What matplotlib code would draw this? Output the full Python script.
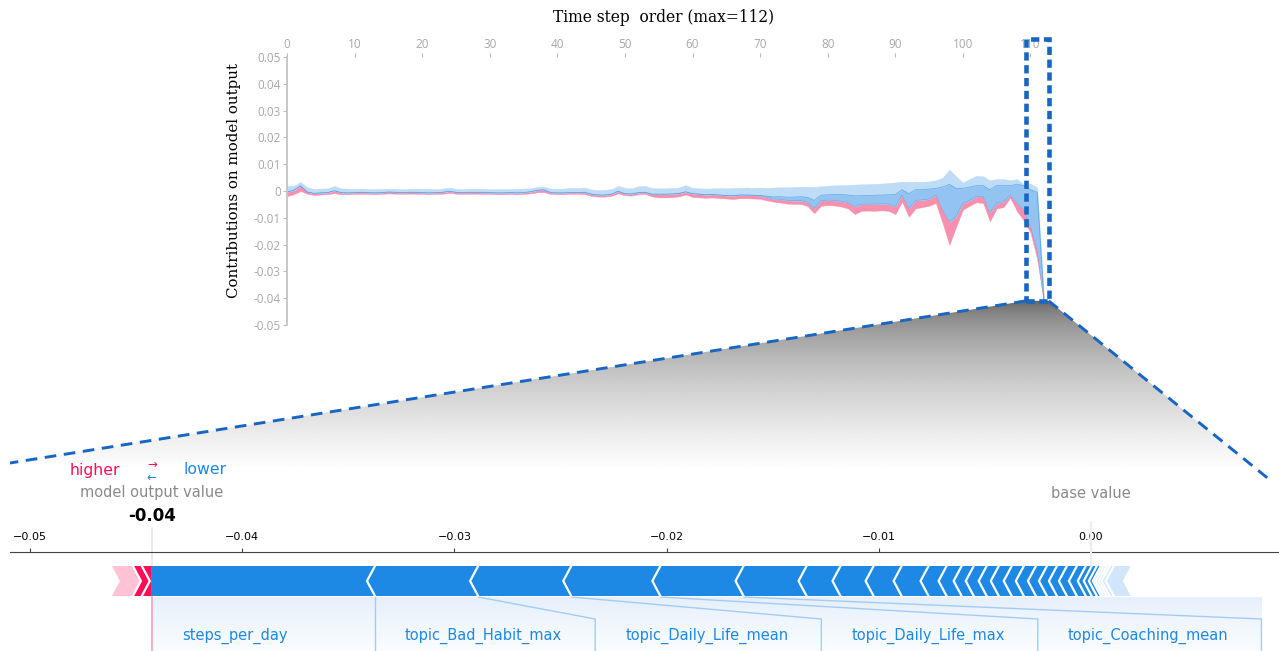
import numpy as np
import matplotlib.pyplot as plt
from matplotlib.patches import Polygon, Rectangle
from matplotlib.colors import LinearSegmentedColormap
from matplotlib.ticker import FuncFormatter

W, H = 1279, 651

# contributions per time step, in units of 0.001
steps = np.arange(113)
blue_top = [
    1.9, 1.9, 3.4, 1.4, 0.7, 0.9, 1.0, 1.9, 1.0, 0.9,
    0.8, 0.9, 0.8, 0.7, 0.8, 0.9, 0.8, 0.7, 0.8, 0.9,
    0.8, 0.8, 0.7, 0.9, 1.3, 0.8, 0.7, 0.8, 0.9, 0.8,
    0.7, 0.7, 0.8, 0.7, 0.8, 0.9, 1.0, 1.5, 1.6, 0.9,
    0.8, 0.9, 1.2, 1.1, 1.3, 0.6, 0.3, 0.4, 0.7, 1.9,
    1.2, 1.0, 1.8, 1.9, 1.1, 1.0, 1.0, 1.1, 1.3, 2.2,
    1.2, 1.0, 0.9, 1.0, 1.1, 1.0, 1.1, 1.2, 1.3, 1.2,
    1.3, 1.2, 1.3, 1.4, 1.4, 1.5, 1.6, 1.6, 1.5, 1.8,
    2.0, 2.1, 2.2, 2.2, 2.4, 2.5, 2.6, 2.7, 2.8, 3.0,
    3.2, 3.5, 3.4, 3.5, 3.4, 3.6, 4.0, 5.0, 8.0, 5.5,
    3.2, 4.5, 5.7, 5.5, 4.0, 4.5, 4.5, 4.0, 4.5, 2.5,
    2.8, 1.2, -40.5,
]
pink_top = [
    -0.4, 0.3, 1.9, -0.4, -0.9, -0.7, -0.6, 0.1, -0.6, -0.7,
    -0.6, -0.5, -0.6, -0.7, -0.6, -0.4, -0.5, -0.6, -0.5, -0.5,
    -0.6, -0.7, -0.6, -0.5, -0.1, -0.5, -0.6, -0.5, -0.5, -0.6,
    -0.6, -0.7, -0.7, -0.6, -0.7, -0.6, -0.3, 0.3, 0.4, -0.6,
    -0.7, -0.7, -0.5, -0.6, -0.5, -1.2, -1.5, -1.5, -1.2, -0.1,
    -1.0, -1.1, -0.6, -0.5, -1.2, -1.2, -1.2, -1.1, -0.9, -0.3,
    -1.0, -1.2, -1.4, -1.3, -1.5, -1.7, -1.8, -1.5, -1.5, -1.6,
    -1.7, -2.4, -3.0, -3.1, -3.5, -3.6, -3.6, -4.2, -6.5, -3.6,
    -3.4, -3.5, -3.8, -4.3, -5.8, -4.9, -4.9, -4.9, -4.8, -4.9,
    -5.8, -1.5, -6.5, -3.5, -3.3, -3.0, -1.5, -7.0, -11.5, -9.5,
    -4.5, -3.5, -2.0, -2.0, -8.0, -4.5, -4.0, -1.5, -4.5, -7.0,
    -13.0, -22.0, -41.0,
]
pink_bottom = [
    -1.9, -1.2, 0.0, -1.0, -1.5, -1.3, -1.2, -0.8, -1.2, -1.2,
    -1.1, -1.0, -1.1, -1.2, -1.1, -0.9, -1.0, -1.1, -1.0, -1.0,
    -1.1, -1.2, -1.1, -1.0, -0.7, -1.0, -1.1, -1.0, -1.0, -1.1,
    -1.1, -1.2, -1.2, -1.1, -1.2, -1.1, -0.9, -0.5, -0.4, -1.1,
    -1.2, -1.2, -1.0, -1.1, -1.1, -1.8, -2.1, -2.1, -1.8, -0.9,
    -1.6, -1.7, -1.2, -1.1, -2.0, -2.4, -2.4, -2.3, -2.0, -1.3,
    -2.2, -2.4, -2.5, -2.4, -2.6, -2.8, -3.0, -2.7, -2.7, -2.8,
    -2.9, -3.5, -4.0, -4.3, -4.7, -4.8, -4.8, -5.6, -8.3, -5.5,
    -5.3, -5.4, -5.8, -6.5, -8.6, -7.4, -7.3, -7.4, -7.2, -7.4,
    -8.6, -4.0, -9.6, -6.5, -6.0, -5.5, -4.5, -12.0, -20.1, -13.3,
    -7.0, -5.5, -4.2, -4.5, -11.3, -6.5, -6.0, -2.5, -7.5, -11.0,
    -15.5, -25.5, -41.8,
]
dark_band = [0.0] * 71 + [
    0.5, 0.8, 1.0, 1.2, 1.3, 1.5, 1.8, 3.0, 2.0,
    2.0, 2.2, 2.5, 2.8, 4.0, 3.2, 3.2, 3.3, 3.3, 3.5,
    4.5, 2.0, 5.5, 4.0, 3.8, 3.7, 2.5, 8.5, 14.0, 10.5,
    5.5, 5.0, 4.0, 4.0, 8.5, 6.5, 6.0, 3.5, 7.0, 9.0,
    13.5, 21.5, 0.5,
]
x_ticks = list(range(0, 111, 10))
y_ticks = list(range(-50, 51, 10))

# force plot of the last time step
base_value = 0.0
neg_strong = [0.01052, 0.00486, 0.00439, 0.00420, 0.00392, 0.00297, 0.00160,
              0.00156, 0.00132, 0.00127, 0.00085, 0.00071, 0.00057, 0.00061,
              0.00057, 0.00061, 0.00057, 0.00057, 0.00052, 0.00047, 0.00047,
              0.00047, 0.00042, 0.00028, 0.00024, 0.00019]
neg_faded = [0.00014, 0.00014, 0.00014, 0.00019, 0.00080]
pos_strong = [0.00047, 0.00042]
pos_faded = [0.00099]
neg_names = ["steps_per_day", "topic_Bad_Habit_max", "topic_Daily_Life_mean",
             "topic_Daily_Life_max", "topic_Coaching_mean"]
force_ticks = [-0.05, -0.04, -0.03, -0.02, -0.01, 0.0]

RED, PINK, BLUE, LBLUE = "#FF0D57", "#FFC3D5", "#1E88E5", "#D1E6FA"
DASH = "#1766C4"

plt.rcParams["font.family"] = ["DejaVu Sans"]
fig = plt.figure(figsize=(W / 100, H / 100), dpi=100)


def px_axes(left, top, right, bottom, **kw):
    return fig.add_axes([left / W, 1 - bottom / H, (right - left) / W, (bottom - top) / H], **kw)


# ---------------- top: contributions over time ----------------
ax = px_axes(287, 57, 1044, 325, zorder=1)
ax.patch.set_alpha(0)
top = np.array(blue_top)
mid = np.array(pink_top)
low = np.array(pink_bottom)
dark = mid + np.array(dark_band)
ax.fill_between(steps, low, mid, color="#F88FAE", lw=0.3, ec="#F88FAE")
ax.fill_between(steps, mid, top, color="#BFDCF6", lw=0.3, ec="#BFDCF6")
ax.fill_between(steps, mid, dark, color="#76B5EE", alpha=0.6, lw=0)
ax.plot(steps, dark, color="#3A93E7", lw=0.6, alpha=0.6)
ax.plot(steps, mid, color="#2F8BE4", lw=0.5, alpha=0.4)
ax.set_xlim(0, 112)
ax.set_ylim(-50, 50)
ax.xaxis.tick_top()
ax.set_xticks(x_ticks)
ax.set_yticks(y_ticks)
ax.yaxis.set_major_formatter(FuncFormatter(lambda v, p: f"{v / 1000:g}"))
for s in ["top", "right", "bottom"]:
    ax.spines[s].set_visible(False)
ax.spines["left"].set_color("#C4C4C4")
ax.spines["left"].set_linewidth(1.3)
ax.tick_params(length=3, color="#BBBBBB", labelcolor="#A8A8A8", labelsize=8.5, pad=1.5)
for lab in ax.get_xticklabels() + ax.get_yticklabels():
    lab.set_fontfamily("Open Sans")

ax.add_patch(Rectangle((109.3, -41.0), 3.4, 97.7, fill=False, ec=DASH, lw=3.3,
                       ls=(0, (1.8, 1.0)), clip_on=False, zorder=10))

fig.text(664 / W, 1 - 18 / H, "Time step  order (max=112)", family="DejaVu Serif",
         fontsize=11.2, ha="center", va="center")
fig.text(234 / W, 1 - 181 / H, "Contributions on model output", family="DejaVu Serif",
         fontsize=10.8, rotation=90, ha="center", va="center")

# ---------------- zoom cone ----------------
ov = fig.add_axes([0, 0, 1, 1], zorder=0.5)
ov.axis("off")
ov.set_xlim(0, W)
ov.set_ylim(H, 0)
corners = ov.transData.inverted().transform(ax.transData.transform([(109.3, -41.0), (112.7, -41.0)]))
bl, br = corners
cone = Polygon([bl, br, (1270, 480), (10, 463)], closed=True, fc="none", ec="none",
               transform=ov.transData)
ov.add_patch(cone)
g = np.linspace(0, 1, 256)[:, None]
shade = np.clip(0.34 + 0.66 * g ** 0.5, 0, 1)
im = ov.imshow(shade, cmap="gray", vmin=0, vmax=1, extent=[0, W, 470, bl[1]],
               aspect="auto", origin="upper", interpolation="bilinear")
im.set_clip_path(cone)
ov.plot([bl[0], 10], [bl[1], 463], color=DASH, lw=2.1, ls=(0, (4, 2.6)))
ov.plot([br[0], 1270], [br[1], 480], color=DASH, lw=2.1, ls=(0, (4, 2.6)))
ov.set_xlim(0, W)
ov.set_ylim(H, 0)

# ---------------- bottom: force plot ----------------
af = px_axes(10, 552, 1279, 651, zorder=2)
af.patch.set_alpha(0)
af.set_xlim(-0.050943, 0.008868)
af.set_ylim(99, 0)
for s in ["left", "right", "bottom"]:
    af.spines[s].set_visible(False)
af.spines["top"].set_color("#444444")
af.xaxis.tick_top()
af.set_xticks(force_ticks)
af.set_yticks([])
af.tick_params(axis="x", length=3, labelsize=8, pad=4, color="#444444")

out_value = base_value + sum(pos_strong) + sum(pos_faded) - sum(neg_strong) - sum(neg_faded)
y_top, y_bot = 14, 44
y_mid = (y_top + y_bot) / 2
d = 0.000377

# blue (lower) features
x0 = out_value
bounds = []
for i, (w, c) in enumerate([(w, BLUE) for w in neg_strong] + [(w, LBLUE) for w in neg_faded]):
    x1 = x0 + w
    if i == 0:
        left = [(x0, y_top), (x0, y_bot)]
    else:
        left = [(x0, y_top), (x0 - d, y_mid), (x0, y_bot)]
    right = [(x1, y_bot), (x1 - d, y_mid), (x1, y_top)]
    af.add_patch(Polygon(left + right, closed=True, fc=c, ec="none", zorder=3))
    if i > 0:
        af.plot([x0, x0 - d, x0], [y_top, y_mid, y_bot], color="white", lw=1.6, zorder=4)
    bounds.append(x1)
    x0 = x1

# red (higher) features
x1 = out_value
for i, (w, c) in enumerate([(w, RED) for w in pos_strong] + [(w, PINK) for w in pos_faded]):
    x0 = x1 - w
    left = [(x0, y_top), (x0 + d, y_mid), (x0, y_bot)]
    if i == 0:
        right = [(x1, y_bot), (x1, y_top)]
    else:
        right = [(x1, y_bot), (x1 + d, y_mid), (x1, y_top)]
    af.add_patch(Polygon(left + right, closed=True, fc=c, ec="none", zorder=3))
    if i > 0:
        af.plot([x1, x1 + d, x1], [y_top, y_mid, y_bot], color="white", lw=1.6, zorder=4)
    x1 = x0

# labels for the largest blue features
renderer = fig.canvas.get_renderer()
pad_l, pad_r = 30 / 21200, 33 / 21200
box_left = out_value
box_edges = []
for name, xr in zip(neg_names, bounds):
    t = af.text(box_left + pad_l, 84, name, color=BLUE, fontsize=10.5, ha="left", va="center")
    bb = t.get_window_extent(renderer)
    text_right = af.transData.inverted().transform((bb.x1, 0))[0]
    box_right = max(xr, text_right + pad_r)
    af.plot([xr, box_right, box_right], [y_bot + 1, 67, 99], color="#A3CCF4", lw=1, zorder=2)
    box_edges.append(box_right)
    box_left = box_right

cmap = LinearSegmentedColormap.from_list("lbl", ["#E6F0FB", "#FBFDFF"])
af.imshow(np.linspace(0, 1, 64)[:, None], cmap=cmap, extent=[out_value, box_edges[-1], 99, y_bot + 1],
          aspect="auto", origin="upper", zorder=0, interpolation="bilinear")
af.set_xlim(-0.050943, 0.008868)
af.set_ylim(99, 0)

af.plot([out_value, out_value], [y_bot + 1, 99], color="#F7A1B9", lw=1.2, zorder=2)
af.plot([out_value, out_value], [-24, y_top], color="#E6E6E6", lw=1.2, clip_on=False, zorder=1)
af.plot([base_value, base_value], [-30, y_top], color="#EEEEEE", lw=1.5, clip_on=False, zorder=5)

af.text(out_value, -36, f"{out_value:.2f}", fontsize=12, fontweight="bold", ha="center",
        va="center", clip_on=False)
af.text(out_value, -59, "model output value", fontsize=10.5, color="#8A8A8A", ha="center",
        va="center", clip_on=False)
af.text(base_value, -59, "base value", fontsize=10.5, color="#8A8A8A", ha="center",
        va="center", clip_on=False)
af.text(out_value - 0.0015, -82, "higher", fontsize=11.3, color=RED, ha="right", va="center",
        clip_on=False)
af.text(out_value + 0.0015, -82, "lower", fontsize=11.3, color=BLUE, ha="left", va="center",
        clip_on=False)
af.text(out_value, -81, "\u2192", fontsize=8.5, color=RED, ha="center", va="bottom", clip_on=False)
af.text(out_value, -81, "\u2190", fontsize=8.5, color=BLUE, ha="center", va="top", clip_on=False)

fig.savefig("out.png", dpi=100)
